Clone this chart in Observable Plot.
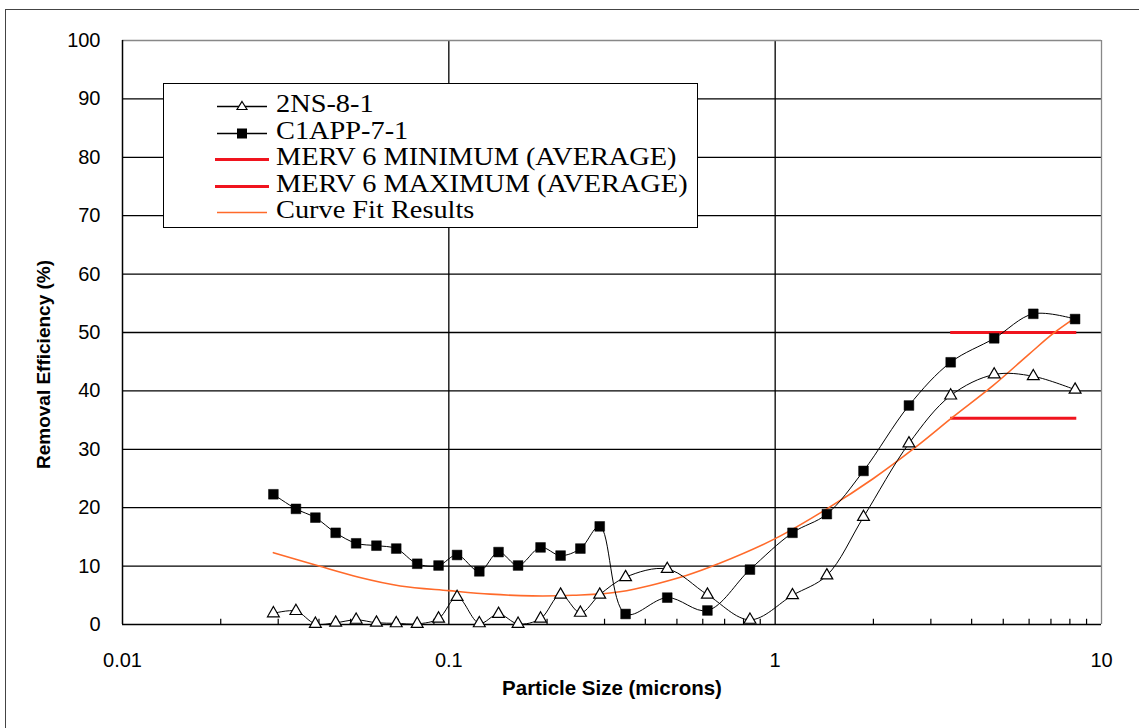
<!DOCTYPE html>
<html><head><meta charset="utf-8">
<script src="https://cdn.jsdelivr.net/npm/d3@7"></script>
<script src="https://cdn.jsdelivr.net/npm/@observablehq/plot@0.6"></script>
<style>
body{margin:0;background:#fff;}
#wrap{position:relative;width:1139px;height:728px;overflow:hidden;}
#border{position:absolute;left:5px;top:9px;width:1140px;height:730px;border:1.5px solid #444;box-sizing:border-box;pointer-events:none;}
#chart{position:absolute;left:0;top:0;}
#legend{position:absolute;left:163px;top:83px;width:535px;height:145px;border:1.5px solid #000;background:#fff;box-sizing:border-box;font-family:"Liberation Serif","Times New Roman",serif;font-size:26px;color:#000;}
.row{position:absolute;left:0;height:27px;line-height:27px;white-space:nowrap;}
.row svg{position:absolute;left:51px;top:0;}
.row span{position:absolute;left:112px;top:-3px;transform:scaleX(1.09);transform-origin:0 50%;}
</style>
</head><body>
<div id="wrap"><div id="chart"></div><div id="legend"></div><div id="border"></div></div>
<script>
// Particle size grid (microns)
const sizes = [0.029,0.034,0.039,0.045,0.052,0.060,0.069,0.080,0.093,0.106,0.124,0.142,0.163,0.191,0.220,0.253,0.290,0.348,0.467,0.62,0.837,1.13,1.44,1.865,2.57,3.45,4.69,6.18,8.3];
// Removal efficiency (%) series
const eff2NS = [1.9,2.3,0.1,0.3,0.8,0.3,0.2,0.1,1.0,4.7,0.2,1.8,0.1,1.0,5.1,2.0,5.1,8.1,9.5,5.1,0.8,5.0,8.4,18.4,31.0,39.2,42.8,42.5,40.2];
const effC1APP = [22.3,19.8,18.3,15.7,13.9,13.5,13.0,10.4,10.1,11.9,9.1,12.4,10.1,13.2,11.8,13.0,16.8,1.8,4.6,2.4,9.4,15.7,18.9,26.3,37.5,44.9,49.0,53.2,52.3];
// Curve fit results
const fitSizes = [0.029,0.04,0.053,0.071,0.1,0.134,0.18,0.24,0.334,0.534,0.67,1.0,1.44,2.0,2.7,3.5,4.65,6.0,7.1,8.3];
const fitEff = [12.3,10.0,8.1,6.6,5.8,5.2,4.9,5.0,5.6,8.4,10.4,14.7,19.8,25.0,30.4,35.5,40.9,46.3,49.8,52.5];
// MERV 6 averages
const mervNames = ["MERV 6 MINIMUM (AVERAGE)","MERV 6 MAXIMUM (AVERAGE)"];
const mervValues = [35.3, 50.0];
const mervRange = [3.45, 8.4];
// Series names
const seriesNames = ["2NS-8-1","C1APP-7-1"];
const fitName = "Curve Fit Results";
// Axes
const xTicks = [0.01,0.1,1,10];
const yTicks = [0,10,20,30,40,50,60,70,80,90,100];
const yGrid = [10,20,30,40,50,60,70,80,90];
const xGrid = [0.1,1];
const minorTicks = [0.01,0.1,1].flatMap(d => [2,3,4,5,6,7,8,9].map(m => +(d*m).toPrecision(3)));
const xTitle = "Particle Size (microns)";
const yTitle = "Removal Efficiency (%)";

const red = "#f0141e", orange = "#ff6a2a";

const d2NS = sizes.map((x,i)=>({x, y: eff2NS[i]}));
const dC1 = sizes.map((x,i)=>({x, y: effC1APP[i]}));
const dFit = fitSizes.map((x,i)=>({x, y: fitEff[i]}));
const merv = mervNames.map((name,i)=>({name, value: mervValues[i], from: mervRange[0], to: mervRange[1]}));

const plot = Plot.plot({
  width: 1139, height: 728,
  marginLeft: 122, marginRight: 38, marginTop: 40, marginBottom: 104,
  x: {type: "log", domain: [0.01, 10]},
  y: {domain: [0, 100]},
  style: {fontFamily: "'Liberation Sans', Arial, sans-serif", background: "transparent", color: "#000"},
  marks: [
    Plot.ruleY(yGrid, {stroke: "#000", strokeWidth: 1.3}),
    Plot.ruleX(xGrid, {stroke: "#000", strokeWidth: 1.3}),
    Plot.ruleY([100], {stroke: "#888", strokeWidth: 1.3}),
    Plot.ruleX([10], {stroke: "#888", strokeWidth: 1.3}),
    Plot.ruleY([0], {stroke: "#000", strokeWidth: 1.5}),
    Plot.ruleX([0.01], {stroke: "#000", strokeWidth: 1.5}),
    Plot.ruleX(minorTicks, {y1: 0, y2: 0.9, stroke: "#000", strokeWidth: 1.2}),
    Plot.axisX(xTicks, {tickSize: 0, tickPadding: 28, tickFormat: d => String(d), fontSize: 20, label: null}),
    Plot.axisY(yTicks, {tickSize: 0, tickPadding: 22, fontSize: 20, label: null}),
    Plot.text([yTitle], {frameAnchor: "left", textAnchor: "middle", dx: -79, dy: 32, rotate: -90, fontWeight: "bold", fontSize: 19}),
    Plot.text([xTitle], {frameAnchor: "bottom", textAnchor: "middle", dy: 70, fontWeight: "bold", fontSize: 20.5}),
    Plot.ruleY(merv, {y: "value", x1: "from", x2: "to", stroke: red, strokeWidth: 3}),
    Plot.line(dFit, {x: "x", y: "y", stroke: orange, strokeWidth: 1.6, curve: "catmull-rom"}),
    Plot.line(d2NS, {x: "x", y: "y", stroke: "#000", strokeWidth: 1, curve: "catmull-rom"}),
    Plot.line(dC1, {x: "x", y: "y", stroke: "#000", strokeWidth: 1, curve: "catmull-rom"}),
    Plot.dot(d2NS, {x: "x", y: "y", symbol: "triangle", r: 4.4, fill: "#fff", stroke: "#000", strokeWidth: 1.2}),
    Plot.dot(dC1, {x: "x", y: "y", symbol: "square", r: 5.5, fill: "#000", stroke: "#000", strokeWidth: 0.5})
  ]
});
document.getElementById("chart").appendChild(plot);

// Legend (overlay inside plot area, as in the reference)
const legendItems = [
  {label: seriesNames[0], kind: "tri"},
  {label: seriesNames[1], kind: "sq"},
  {label: mervNames[0], kind: "red"},
  {label: mervNames[1], kind: "red"},
  {label: fitName, kind: "fit"}
];
const leg = document.getElementById("legend");
legendItems.forEach((it, i) => {
  const row = document.createElement("div");
  row.className = "row";
  row.style.top = (9 + i * 26.6) + "px";
  let sym = "";
  if (it.kind === "tri") sym = `<line x1="2" y1="13.5" x2="52" y2="13.5" stroke="#000" stroke-width="1.3"/><path d="M27,8.5 L32,16.5 L22,16.5 Z" fill="#fff" stroke="#000" stroke-width="1.2"/>`;
  if (it.kind === "sq") sym = `<line x1="2" y1="13.5" x2="52" y2="13.5" stroke="#000" stroke-width="1.3"/><rect x="22" y="8.5" width="10" height="10" fill="#000"/>`;
  if (it.kind === "red") sym = `<line x1="0" y1="13.5" x2="54" y2="13.5" stroke="${red}" stroke-width="3.2"/>`;
  if (it.kind === "fit") sym = `<line x1="2" y1="13.5" x2="52" y2="13.5" stroke="${orange}" stroke-width="1.6"/>`;
  row.innerHTML = `<svg width="56" height="27">${sym}</svg><span>${it.label}</span>`;
  leg.appendChild(row);
});
</script>
</body></html>
